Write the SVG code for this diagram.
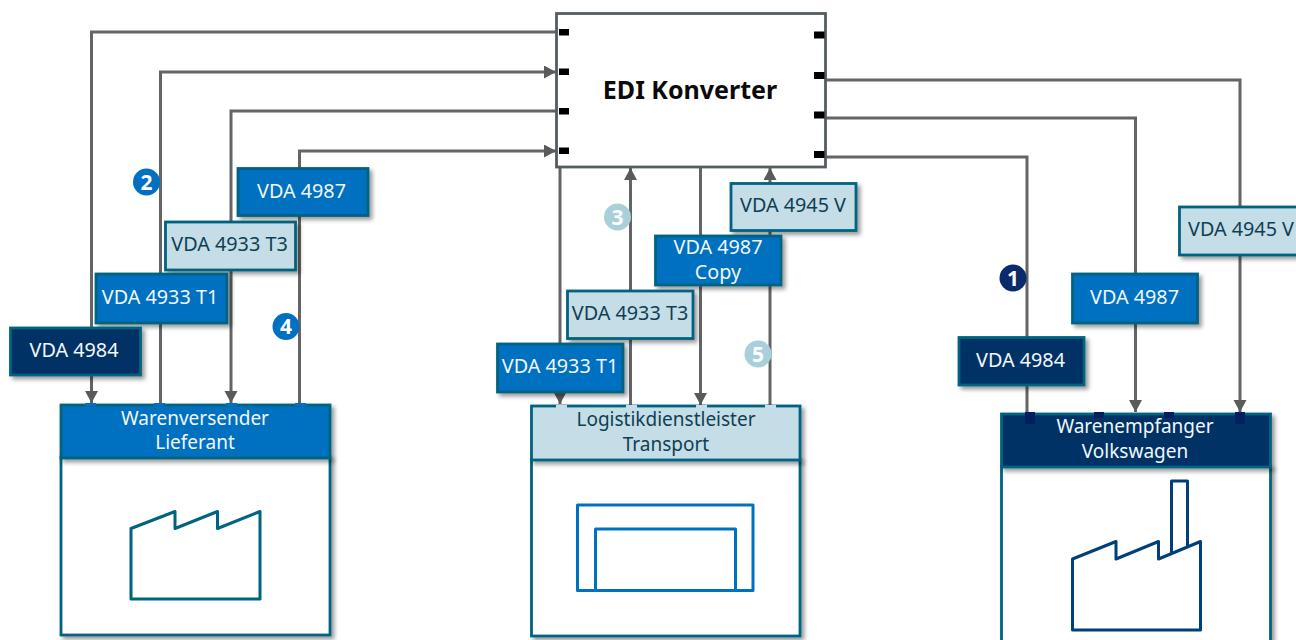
<svg xmlns="http://www.w3.org/2000/svg" width="1296" height="640" viewBox="0 0 1296 640">
<defs>
<filter id="sh" x="-10%" y="-10%" width="125%" height="130%"><feDropShadow dx="3" dy="3" stdDeviation="2" flood-color="#000" flood-opacity="0.4"/></filter>
<marker id="ah" markerUnits="userSpaceOnUse" markerWidth="13" markerHeight="14" refX="12" refY="6.500" orient="auto"><path d="M0 0L12 6.500L0 13Z" fill="#5a5a5a"/></marker>
</defs>
<style>
text{font-family:"Noto Sans","Open Sans",sans-serif;font-size:19.8px;text-anchor:middle}
.hd{font-size:19px}
.con{fill:none;stroke:#646464;stroke-width:3}
.box{stroke:#00637f;stroke-width:2.8;filter:url(#sh)}
.bl{fill:#0070c0}.dk{fill:#003366}.lt{fill:#c5dde6}
.w{fill:#fff}.tw{fill:#f2f7fb}.td{fill:#0f3f55}
.p{fill:#000}
.ic{fill:none;stroke-width:3;stroke-linejoin:round}
.num{font-weight:700;font-size:21px}
</style>
<g id="connectors">
<path class="con" d="M556 32H91.500V403" marker-end="url(#ah)"/>
<path class="con" d="M160.500 404V72H556" marker-end="url(#ah)"/>
<path class="con" d="M556 111H231V403" marker-end="url(#ah)"/>
<path class="con" d="M299.500 404V151H556" marker-end="url(#ah)"/>
<path class="con" d="M560 167V404" marker-end="url(#ah)"/>
<path class="con" d="M630.500 405V168" marker-end="url(#ah)"/>
<path class="con" d="M700.500 167V405" marker-end="url(#ah)"/>
<path class="con" d="M770 405V168" marker-end="url(#ah)"/>
<path class="con" d="M825 80H1240V412" marker-end="url(#ah)"/>
<path class="con" d="M825 118H1135.500V412" marker-end="url(#ah)"/>
<path class="con" d="M825 157H1027V412"/>
</g>
<g id="edi">
<rect x="556.500" y="13.500" width="269" height="153.500" fill="#fff" stroke="#555c60" stroke-width="2.800"/>
<g class="p"><rect x="559" y="29" width="10" height="6.500"/><rect x="559" y="68.500" width="10" height="6.500"/><rect x="559" y="108" width="10" height="6.500"/><rect x="559" y="147.500" width="10" height="6.500"/><rect x="814" y="31.500" width="10.500" height="7"/><rect x="814" y="72" width="10.500" height="7"/><rect x="814" y="111.500" width="10.500" height="7"/><rect x="814" y="151" width="10.500" height="7"/></g>
<text x="690" y="98.500" style="font-size:25px;font-weight:700" fill="#0a0a0a">EDI Konverter</text>
</g>
<g id="lieferant">
<rect class="box w" x="61" y="457" width="269" height="178"/>
<rect class="box bl" x="61" y="405" width="269" height="53"/>
<g class="bl"><rect x="85" y="403" width="11" height="3"/><rect x="154" y="403" width="11" height="3"/><rect x="226" y="403" width="11" height="3"/><rect x="295" y="403" width="11" height="3"/></g>
<text class="tw hd" x="195" y="425">Warenversender</text><text class="tw hd" x="195" y="449">Lieferant</text>
<path class="ic" stroke="#00637f" d="M131 528.500L175 511.500V528.500L217.500 511.500V528.500L260 511.500V599H131Z"/>
</g>
<g id="logistik">
<rect class="box w" x="531.500" y="459" width="268.500" height="177"/>
<rect class="box lt" x="531.500" y="406" width="268.500" height="54"/>
<g class="lt"><rect x="556" y="405" width="11" height="3"/><rect x="626" y="405" width="11" height="3"/><rect x="696" y="405" width="11" height="3"/><rect x="765" y="405" width="11" height="3"/></g>
<text class="td hd" x="666" y="426">Logistikdienstleister</text><text class="td hd" x="666" y="451">Transport</text>
<path class="ic" stroke="#0070c0" d="M577.500 590.500V505H753V590.500ZM595.500 590.500V529H735.500V590.500"/>
</g>
<g id="volkswagen">
<rect class="box w" x="1001.500" y="466" width="269" height="180"/>
<rect class="box dk" x="1001.500" y="414" width="269" height="53"/>
<g fill="#00205f"><rect x="1025" y="412" width="10" height="12"/><rect x="1094" y="412" width="10" height="6"/><rect x="1164" y="412" width="10" height="6"/><rect x="1235" y="412" width="10" height="12"/></g>
<text class="tw hd" x="1135" y="433">Warenempfanger</text><text class="tw hd" x="1135" y="458">Volkswagen</text>
<path class="ic" stroke="#003f78" d="M1171.500 552.500V481H1187.500V546M1072.500 559L1116 541.500V559L1158.500 541.500V559L1200.500 541.500V630H1072.500Z"/>
</g>
<g id="l-4987a"><rect class="box bl" x="238" y="168.500" width="130" height="47"/><text class="tw" x="301.500" y="198">VDA 4987</text></g>
<g id="l-4933t3a"><rect class="box lt" x="165.500" y="222" width="130" height="48"/><text class="td" x="229.500" y="251">VDA 4933 T3</text></g>
<g id="l-4933t1a"><rect class="box bl" x="96" y="274" width="131" height="49"/><text class="tw" x="160" y="304">VDA 4933 T1</text></g>
<g id="l-4984a"><rect class="box dk" x="10.500" y="328" width="130" height="47"/><text class="tw" x="74" y="357">VDA 4984</text></g>
<g id="l-4945a"><rect class="box lt" x="731" y="183.500" width="125" height="47"/><text class="td" x="793" y="212">VDA 4945 V</text></g>
<g id="l-4987copy"><rect class="box bl" x="655.500" y="236" width="125.500" height="49"/><text class="tw" x="718" y="254">VDA 4987</text><text class="tw" x="718" y="279">Copy</text></g>
<g id="l-4933t3b"><rect class="box lt" x="567.500" y="291" width="125.500" height="47.500"/><text class="td" x="630" y="320">VDA 4933 T3</text></g>
<g id="l-4933t1b"><rect class="box bl" x="497.500" y="344" width="125.500" height="48"/><text class="tw" x="560" y="373">VDA 4933 T1</text></g>
<g id="l-4945b"><rect class="box lt" x="1179.500" y="207" width="130" height="48"/><text class="td" x="1241" y="236">VDA 4945 V</text></g>
<g id="l-4987b"><rect class="box bl" x="1072.500" y="274" width="125" height="49"/><text class="tw" x="1134.500" y="304">VDA 4987</text></g>
<g id="l-4984b"><rect class="box dk" x="959" y="337.500" width="125" height="47.500"/><text class="tw" x="1020.500" y="367">VDA 4984</text></g>
<g id="badges">
<circle cx="146.500" cy="182" r="13.500" fill="#0070c0"/><text class="num" x="146.500" y="189.500" fill="#fff">2</text>
<circle cx="286" cy="326.500" r="13.500" fill="#0070c0"/><text class="num" x="286" y="334" fill="#fff">4</text>
<circle cx="617.500" cy="217" r="13.500" fill="#a9cfdb"/><text class="num" x="617.500" y="224.500" fill="#fff">3</text>
<circle cx="758" cy="354" r="13.500" fill="#a9cfdb"/><text class="num" x="758" y="361.500" fill="#fff">5</text>
<circle cx="1013" cy="278" r="13.500" fill="#0a2a6b"/><text class="num" x="1013" y="285.500" fill="#fff">1</text>
</g>
</svg>
